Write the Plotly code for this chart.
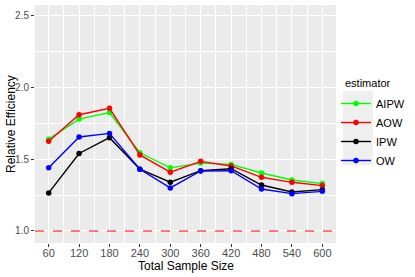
import plotly.graph_objects as go

sample_size = [60, 120, 180, 240, 300, 360, 420, 480, 540, 600]
aipw = [1.64, 1.78, 1.825, 1.545, 1.44, 1.473, 1.464, 1.404, 1.355, 1.33]
aow = [1.625, 1.81, 1.855, 1.53, 1.41, 1.485, 1.453, 1.374, 1.339, 1.316]
ipw = [1.265, 1.54, 1.65, 1.43, 1.34, 1.42, 1.434, 1.32, 1.272, 1.288]
ow = [1.44, 1.655, 1.68, 1.43, 1.30, 1.418, 1.42, 1.292, 1.26, 1.276]
reference_line = 1.0

series = [("AIPW", aipw, "#00FF00"), ("AOW", aow, "#FF0000"),
          ("IPW", ipw, "#000000"), ("OW", ow, "#0000FF")]

W, H = 415, 277
L, R, T, B = 35, 79, 5, 34
pw, ph = W - L - R, H - T - B


def px_x(x):
    return (x - L) / pw


def px_y(y):
    return (H - B - y) / ph


fig = go.Figure()
for name, vals, col in series:
    fig.add_trace(go.Scatter(x=sample_size, y=vals, name=name, mode="lines+markers",
                             line=dict(color=col, width=1.4),
                             marker=dict(color=col, size=5.5)))

fig.add_hline(y=reference_line, line=dict(color="#FF0000", width=1.1, dash="dash"))

font = "Liberation Sans, Arial, sans-serif"

# legend key background (ggplot style)
fig.add_shape(type="rect", xref="paper", yref="paper", layer="below",
              x0=px_x(343), x1=px_x(373), y0=px_y(165), y1=px_y(91),
              fillcolor="#EFEFEF", line=dict(width=0))

fig.add_annotation(text="estimator", xref="paper", yref="paper",
                   x=px_x(343), y=px_y(83), xanchor="left", yanchor="middle",
                   showarrow=False, font=dict(size=11, color="#000000"))
fig.add_annotation(text="Total Sample Size", xref="paper", yref="paper",
                   x=0.5, y=px_y(266), xanchor="center", yanchor="middle",
                   showarrow=False, font=dict(size=12, color="#000000"))
fig.add_annotation(text="Relative Efficiency", xref="paper", yref="paper",
                   x=px_x(11), y=0.5, xanchor="center", yanchor="middle", textangle=-90,
                   showarrow=False, font=dict(size=12, color="#000000"))

fig.update_layout(
    width=W, height=H,
    margin=dict(l=L, r=R, t=T, b=B),
    paper_bgcolor="white", plot_bgcolor="#EBEBEB",
    font=dict(family=font, color="#000000"),
    showlegend=True,
    legend=dict(font=dict(size=11, color="#000000"),
                x=1.0, xanchor="left", y=px_y(89), yanchor="top",
                bgcolor="rgba(0,0,0,0)", itemwidth=30),
)
fig.update_xaxes(range=[33, 627], tickvals=sample_size, ticks="outside", ticklen=3,
                 tickcolor="#333333", tickfont=dict(size=11, color="#4D4D4D"),
                 ticklabelstandoff=-3,
                 showgrid=True, gridcolor="white", gridwidth=1.1, zeroline=False,
                 showline=False, automargin=False,
                 minor=dict(tickvals=[90, 150, 210, 270, 330, 390, 450, 510, 570],
                            showgrid=True, gridcolor="white", gridwidth=0.5, ticks=""))
fig.update_yaxes(range=[0.916, 2.575], tickvals=[1.0, 1.5, 2.0, 2.5], tickformat=".1f",
                 ticks="outside", ticklen=3, tickcolor="#333333",
                 tickfont=dict(size=10, color="#4D4D4D"),
                 showgrid=True, gridcolor="white", gridwidth=1.1, zeroline=False,
                 showline=False, automargin=False,
                 minor=dict(tickvals=[1.25, 1.75, 2.25], showgrid=True,
                            gridcolor="white", gridwidth=0.5, ticks=""))

fig.write_html("out.html", config={"displayModeBar": False},
               post_script="document.body.style.margin='0';document.body.style.padding='0';")
